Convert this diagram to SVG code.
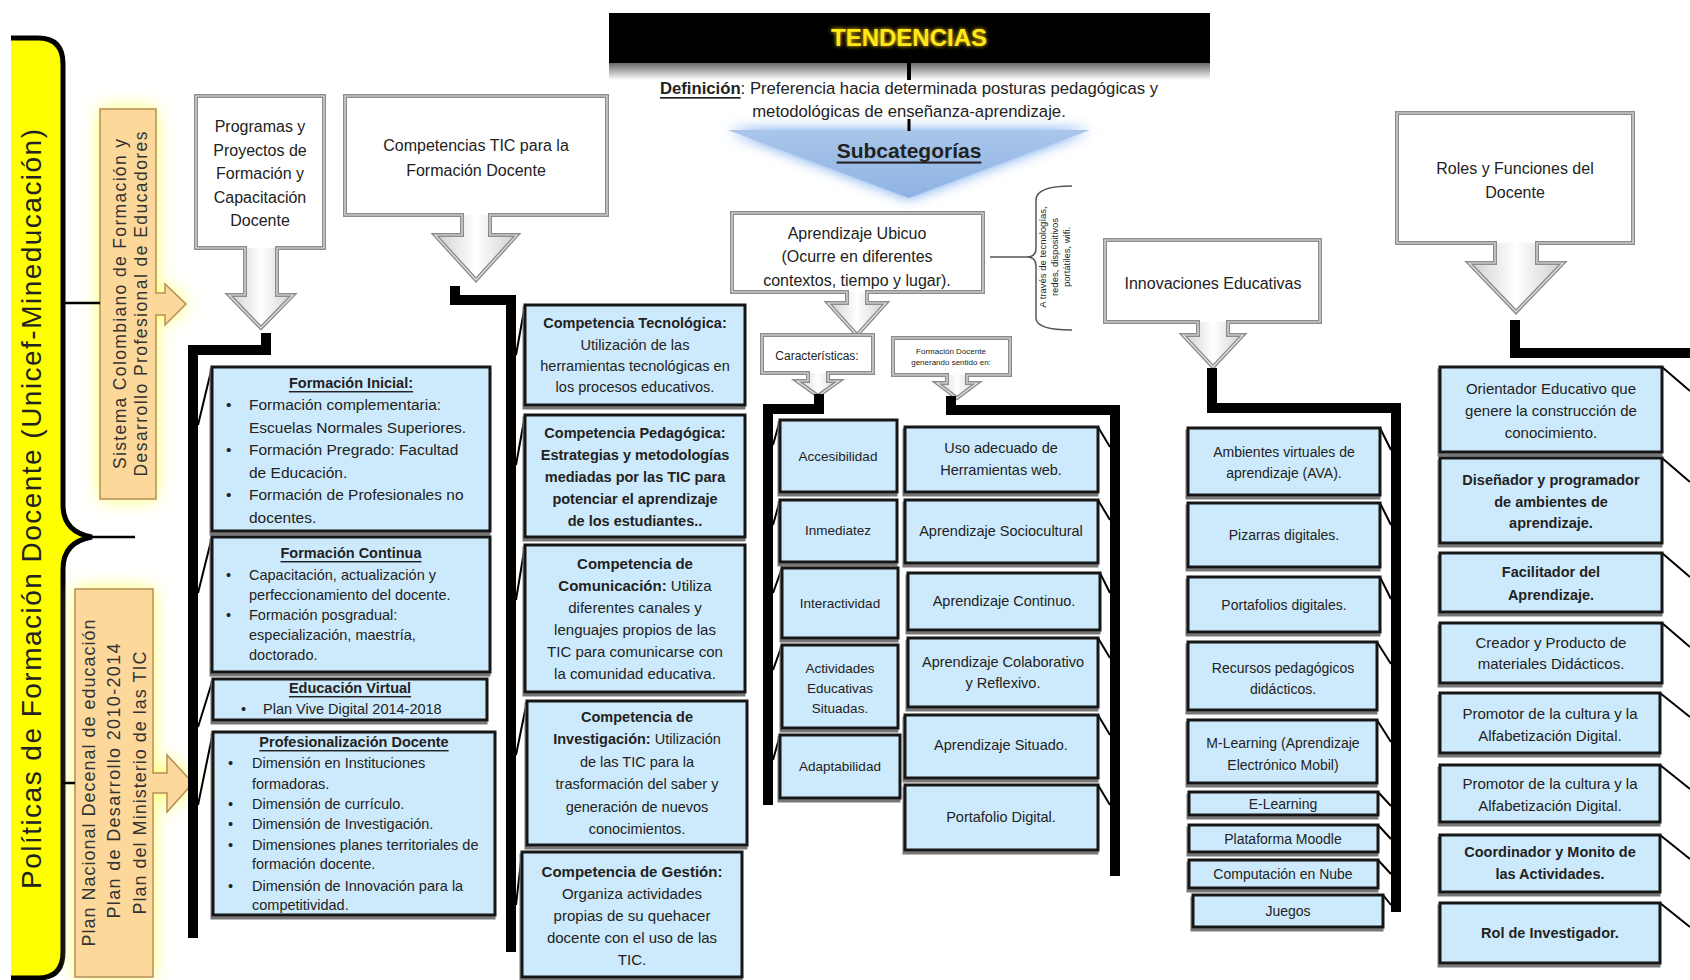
<svg xmlns="http://www.w3.org/2000/svg" width="1690" height="980" viewBox="0 0 1690 980">
<defs>
<style>
text{font-family:"Liberation Sans",Arial,sans-serif;fill:#222;dominant-baseline:central;font-size:15px}
.c{text-anchor:middle}
.b{font-weight:bold}
.u{text-decoration:underline}
.box{fill:#cdeafc;stroke:#151515;stroke-width:3;filter:url(#ds)}
.co{fill:#fff;stroke:none}
.cs{fill:none;stroke:#8c8c8c;stroke-width:4}
.ci{fill:none;stroke:#e2e2e2;stroke-width:1.2}
.ag{fill:url(#agr)}
.br{fill:none;stroke:#000;stroke-width:10;stroke-linejoin:miter}
.dg{stroke:#000;stroke-width:2;fill:none}
.tl{stroke:#000;stroke-width:2.5;fill:none}
.or{fill:#fdd89b;stroke:#b58f5a;stroke-width:1.5}
.glow{fill:#ffff60;filter:url(#yg)}
.f13{font-size:13.5px}.f135{font-size:14px}.f14{font-size:14.5px}.f16{font-size:16px}
</style>
<filter id="ds" x="-10%" y="-10%" width="120%" height="130%"><feDropShadow dx="-1" dy="3" stdDeviation="0.6" flood-color="#777"/></filter>
<filter id="yg" x="-50%" y="-20%" width="200%" height="140%"><feGaussianBlur stdDeviation="9"/></filter>
<filter id="bg" x="-20%" y="-40%" width="140%" height="180%"><feGaussianBlur stdDeviation="7"/></filter>
<filter id="tg" x="-20%" y="-50%" width="140%" height="200%"><feGaussianBlur stdDeviation="2"/></filter>
<linearGradient id="agr" x1="0" y1="0" x2="1" y2="0"><stop offset="0" stop-color="#cfcfcf"/><stop offset="0.5" stop-color="#fff"/><stop offset="1" stop-color="#cfcfcf"/></linearGradient>
<linearGradient id="refl" x1="0" y1="0" x2="0" y2="1"><stop offset="0" stop-color="#6a6a6a"/><stop offset="1" stop-color="#fff"/></linearGradient>
<linearGradient id="tri" x1="0" y1="0" x2="0" y2="1"><stop offset="0" stop-color="#a9c6ea"/><stop offset="1" stop-color="#8fb3e4"/></linearGradient>
</defs>
<rect width="1690" height="980" fill="#fff"/>

<!-- Yellow brace -->
<g id="politicas">
<path d="M11,38H38Q63,38 63,64V505Q63,532 92,537Q63,542 63,569V952Q63,978 38,978H11Z" fill="#ffff00"/>
<path d="M11,38H38Q63,38 63,64V505Q63,532 92,537Q63,542 63,569V952Q63,978 38,978H11" fill="none" stroke="#000" stroke-width="5"/>
<text transform="translate(31,509) rotate(-90)" class="c" style="font-size:28px" textLength="760">Políticas de Formación Docente (Unicef-Mineducación)</text>
</g>

<!-- Orange boxes -->
<g id="sistema">
<path class="glow" d="M100,109H156V293H165V284L186,304L165,325V315H156V499H100Z"/>
<path class="or" d="M100,109H156V293H165V284L186,304L165,325V315H156V499H100Z"/>
<text transform="translate(120,304) rotate(-90)" class="c" style="font-size:17.5px;fill:#333" textLength="330">Sistema Colombiano de Formación y</text>
<text transform="translate(141,304) rotate(-90)" class="c" style="font-size:17.5px;fill:#333" textLength="345">Desarrollo Profesional de Educadores</text>
</g>
<g id="planes">
<path class="glow" d="M75,589H153V773H167V755L193,783L167,812V793H153V977H75Z"/>
<path class="or" d="M75,589H153V773H167V755L193,783L167,812V793H153V977H75Z"/>
<text transform="translate(89,783) rotate(-90)" class="c" style="font-size:18px;fill:#333" textLength="327">Plan Nacional Decenal de educación</text>
<text transform="translate(114,781) rotate(-90)" class="c" style="font-size:18px;fill:#333" textLength="275">Plan de Desarrollo 2010-2014</text>
<text transform="translate(140,783) rotate(-90)" class="c" style="font-size:18px;fill:#333" textLength="263">Plan del Ministerio de las TIC</text>
</g>

<!-- Title -->
<g id="tendencias">
<rect x="609" y="13" width="601" height="50" fill="#000"/>
<rect x="609" y="63" width="601" height="17" fill="url(#refl)"/>
<text x="909" y="37" class="c b" style="font-size:24px;fill:#ffcc00;filter:url(#tg)">TENDENCIAS</text>
<text x="909" y="37" class="c b" style="font-size:24px;fill:#ffe81a">TENDENCIAS</text>
</g>
<g id="definicion">
<text x="909" y="88" class="c" style="font-size:16.7px"><tspan class="b u">Definición</tspan>: Preferencia hacia determinada posturas pedagógicas y</text>
<text x="909" y="111" class="c" style="font-size:16.7px">metodológicas de enseñanza-aprendizaje.</text>
</g>
<g id="subcategorias">
<polygon points="728,130 1090,130 909,198" fill="#6aa2ec" filter="url(#bg)"/>
<polygon points="728,130 1090,130 909,198" fill="url(#tri)"/>
<text x="909" y="150" class="c b u" style="font-size:21px">Subcategorías</text>
</g>

<!-- Callouts -->
<g id="programas">
<path class="co" d="M196,96H324V248H277V295H293L261,328L229,295H245V248H196Z"/>
<polygon class="ag" points="245,248 277,248 277,295 293,295 261,328 229,295 245,295"/>
<path class="cs" d="M196,96H324V248H277V295H293L261,328L229,295H245V248H196Z"/>
<path class="ci" d="M196,96H324V248H277V295H293L261,328L229,295H245V248H196Z"/>
<text class="c f16" x="260"><tspan x="260" y="126">Programas y</tspan><tspan x="260" y="150">Proyectos de</tspan><tspan x="260" y="173">Formación y</tspan><tspan x="260" y="197">Capacitación</tspan><tspan x="260" y="220">Docente</tspan></text>
</g>
<g id="competencias-tic">
<path class="co" d="M345,96H607V215H490V235H517L476,280L435,235H462V215H345Z"/>
<polygon class="ag" points="462,215 490,215 490,235 517,235 476,280 435,235 462,235"/>
<path class="cs" d="M345,96H607V215H490V235H517L476,280L435,235H462V215H345Z"/>
<path class="ci" d="M345,96H607V215H490V235H517L476,280L435,235H462V215H345Z"/>
<text class="c f16"><tspan x="476" y="145">Competencias TIC para la</tspan><tspan x="476" y="170">Formación Docente</tspan></text>
</g>
<g id="ubicuo">
<path class="co" d="M732,213H983V292H867V303H886L857,335L828,303H847V292H732Z"/>
<polygon class="ag" points="847,292 867,292 867,303 886,303 857,335 828,303 847,303"/>
<path class="cs" d="M732,213H983V292H867V303H886L857,335L828,303H847V292H732Z"/>
<path class="ci" d="M732,213H983V292H867V303H886L857,335L828,303H847V292H732Z"/>
<text class="c f16"><tspan x="857" y="233">Aprendizaje Ubicuo</tspan><tspan x="857" y="256">(Ocurre en diferentes</tspan><tspan x="857" y="280">contextos, tiempo y lugar).</tspan></text>
</g>
<g id="ubicuo-nota">
<path d="M1072,186Q1036,186 1036,200V248Q1036,257 1027,257Q1036,257 1036,266V318Q1036,330 1072,330" fill="none" stroke="#555" stroke-width="1.5"/>
<text transform="translate(1042,257) rotate(-90)" class="c" style="font-size:9.5px">A través de tecnologías,</text>
<text transform="translate(1054,257) rotate(-90)" class="c" style="font-size:9.5px">redes, dispositivos</text>
<text transform="translate(1066,257) rotate(-90)" class="c" style="font-size:9.5px">portátiles, wifi.</text>
</g>
<g id="caracteristicas">
<path class="co" d="M762,335H873V373H828V381H839L818,396L797,381H808V373H762Z"/>
<polygon class="ag" points="808,373 828,373 828,381 839,381 818,396 797,381 808,381"/>
<path class="cs" d="M762,335H873V373H828V381H839L818,396L797,381H808V373H762Z"/>
<path class="ci" d="M762,335H873V373H828V381H839L818,396L797,381H808V373H762Z"/>
<text x="817" y="356" class="c" style="font-size:12px">Características:</text>
</g>
<g id="formacion-sentido">
<path class="co" d="M893,338H1010V375H967V383H977L957,398L937,383H947V375H893Z"/>
<polygon class="ag" points="947,375 967,375 967,383 977,383 957,398 937,383 947,383"/>
<path class="cs" d="M893,338H1010V375H967V383H977L957,398L937,383H947V375H893Z"/>
<path class="ci" d="M893,338H1010V375H967V383H977L957,398L937,383H947V375H893Z"/>
<text class="c" style="font-size:8px"><tspan x="951" y="351">Formación Docente</tspan><tspan x="951" y="362">generando sentido en:</tspan></text>
</g>
<g id="innovaciones">
<path class="co" d="M1105,240H1320V322H1228V335H1243L1213,367L1183,335H1198V322H1105Z"/>
<polygon class="ag" points="1198,322 1228,322 1228,335 1243,335 1213,367 1183,335 1198,335"/>
<path class="cs" d="M1105,240H1320V322H1228V335H1243L1213,367L1183,335H1198V322H1105Z"/>
<path class="ci" d="M1105,240H1320V322H1228V335H1243L1213,367L1183,335H1198V322H1105Z"/>
<text x="1213" y="283" class="c f16">Innovaciones Educativas</text>
</g>
<g id="roles">
<path class="co" d="M1397,113H1633V243H1537V263H1563L1516,312L1469,263H1495V243H1397Z"/>
<polygon class="ag" points="1495,243 1537,243 1537,263 1563,263 1516,312 1469,263 1495,263"/>
<path class="cs" d="M1397,113H1633V243H1537V263H1563L1516,312L1469,263H1495V243H1397Z"/>
<path class="ci" d="M1397,113H1633V243H1537V263H1563L1516,312L1469,263H1495V243H1397Z"/>
<text class="c f16"><tspan x="1515" y="168">Roles y Funciones del</tspan><tspan x="1515" y="192">Docente</tspan></text>
</g>

<!-- Connectors -->
<g id="connectors">
<line class="tl" x1="63" y1="303" x2="100" y2="303"/>
<line class="tl" x1="63" y1="783" x2="75" y2="783"/>
<line class="tl" x1="90" y1="537" x2="135" y2="537" stroke-width="3"/>
<line x1="909" y1="63" x2="909" y2="80" stroke="#000" stroke-width="4"/>
<line x1="909" y1="119" x2="909" y2="131" stroke="#000" stroke-width="3"/>
<line x1="990" y1="257" x2="1027" y2="257" stroke="#555" stroke-width="1.5"/>
<path class="br" d="M266,333V350H193V938"/>
<path class="br" d="M455,286V300H511V952"/>
<path class="br" d="M819,394V409H768V805"/>
<path class="br" d="M951,396V410H1115V876"/>
<path class="br" d="M1212,368V408H1396V912"/>
<path class="br" d="M1515,320V353H1695"/>
<path class="dg" d="M212,367L198,425M212,537L198,593M213,679L198,727M213,732L198,805"/>
<path class="dg" d="M525,305L516,355M525,415L516,465M525,545L516,600M527,701L516,755M522,852L516,905"/>
<path class="dg" d="M780,420L773,445M780,500L773,525M782,568L773,593M782,645L773,670M780,735L773,760"/>
<path class="dg" d="M1098,427L1110,447M1098,500L1110,520M1100,573L1110,593M1098,638L1110,658M1098,715L1110,735M1098,785L1110,805"/>
<path class="dg" d="M1380,428L1391,450M1380,503L1391,525M1380,577L1391,599M1377,642L1391,664M1377,720L1391,742M1378,792L1391,806M1378,825L1391,839M1378,860L1391,874M1383,895L1391,905"/>
<path class="dg" d="M1662,367L1690,391M1662,458L1690,482M1662,553L1690,577M1662,623L1690,647M1660,693L1690,717M1660,765L1690,789M1660,835L1690,859M1660,903L1690,927"/>
</g>

<!-- Column 1 -->
<g id="formacion-inicial">
<rect class="box" x="212" y="367" width="278" height="164"/>
<text x="351" y="383" class="c b u f14">Formación Inicial:</text>
<text style="font-size:15.5px"><tspan x="226" y="404">•</tspan><tspan x="249" y="404">Formación complementaria:</tspan><tspan x="249" y="427">Escuelas Normales Superiores.</tspan><tspan x="226" y="449">•</tspan><tspan x="249" y="449">Formación Pregrado: Facultad</tspan><tspan x="249" y="472">de Educación.</tspan><tspan x="226" y="494">•</tspan><tspan x="249" y="494">Formación de Profesionales no</tspan><tspan x="249" y="517">docentes.</tspan></text>
</g>
<g id="formacion-continua">
<rect class="box" x="212" y="537" width="278" height="135"/>
<text x="351" y="553" class="c b u f14">Formación Continua</text>
<text class="f14"><tspan x="226" y="575">•</tspan><tspan x="249" y="575">Capacitación, actualización y</tspan><tspan x="249" y="595">perfeccionamiento del docente.</tspan><tspan x="226" y="615">•</tspan><tspan x="249" y="615">Formación posgradual:</tspan><tspan x="249" y="635">especialización, maestría,</tspan><tspan x="249" y="655">doctorado.</tspan></text>
</g>
<g id="educacion-virtual">
<rect class="box" x="213" y="679" width="274" height="41"/>
<text x="350" y="688" class="c b u f14">Educación Virtual</text>
<text class="f14"><tspan x="241" y="709">•</tspan><tspan x="263" y="709">Plan Vive Digital 2014-2018</tspan></text>
</g>
<g id="profesionalizacion">
<rect class="box" x="213" y="732" width="282" height="183"/>
<text x="354" y="742" class="c b u f14">Profesionalización Docente</text>
<text class="f14"><tspan x="228" y="763">•</tspan><tspan x="252" y="763">Dimensión en Instituciones</tspan><tspan x="252" y="784">formadoras.</tspan><tspan x="228" y="804">•</tspan><tspan x="252" y="804">Dimensión de currículo.</tspan><tspan x="228" y="824">•</tspan><tspan x="252" y="824">Dimensión de Investigación.</tspan><tspan x="228" y="845">•</tspan><tspan x="252" y="845">Dimensiones planes territoriales de</tspan><tspan x="252" y="864">formación docente.</tspan><tspan x="228" y="886">•</tspan><tspan x="252" y="886">Dimensión de Innovación para la</tspan><tspan x="252" y="905">competitividad.</tspan></text>
</g>

<!-- Column 2 -->
<g id="comp-tecnologica">
<rect class="box" x="525" y="305" width="220" height="100"/>
<text class="c f14"><tspan x="635" y="323" class="b">Competencia Tecnológica:</tspan><tspan x="635" y="345">Utilización de las</tspan><tspan x="635" y="366">herramientas tecnológicas en</tspan><tspan x="635" y="387">los procesos educativos.</tspan></text>
</g>
<g id="comp-pedagogica">
<rect class="box" x="525" y="415" width="220" height="122"/>
<text class="c b f14"><tspan x="635" y="433">Competencia Pedagógica:</tspan><tspan x="635" y="455">Estrategias y metodologías</tspan><tspan x="635" y="477">mediadas por las TIC para</tspan><tspan x="635" y="499">potenciar el aprendizaje</tspan><tspan x="635" y="521">de los estudiantes..</tspan></text>
</g>
<g id="comp-comunicacion">
<rect class="box" x="525" y="545" width="220" height="147"/>
<text class="c"><tspan x="635" y="563" class="b">Competencia de</tspan><tspan x="635" y="585"><tspan class="b">Comunicación:</tspan> Utiliza</tspan><tspan x="635" y="607">diferentes canales y</tspan><tspan x="635" y="629">lenguajes propios de las</tspan><tspan x="635" y="651">TIC para  comunicarse con</tspan><tspan x="635" y="673">la comunidad educativa.</tspan></text>
</g>
<g id="comp-investigacion">
<rect class="box" x="527" y="701" width="220" height="144"/>
<text class="c f14"><tspan x="637" y="717" class="b">Competencia de</tspan><tspan x="637" y="739"><tspan class="b">Investigación:</tspan> Utilización</tspan><tspan x="637" y="762">de las TIC para la</tspan><tspan x="637" y="784">trasformación del saber y</tspan><tspan x="637" y="807">generación de nuevos</tspan><tspan x="637" y="829">conocimientos.</tspan></text>
</g>
<g id="comp-gestion">
<rect class="box" x="522" y="852" width="220" height="125"/>
<text class="c"><tspan x="632" y="871" class="b">Competencia de Gestión:</tspan><tspan x="632" y="893">Organiza actividades</tspan><tspan x="632" y="915">propias de su quehacer</tspan><tspan x="632" y="937">docente con el uso de las</tspan><tspan x="632" y="959">TIC.</tspan></text>
</g>

<!-- Column 3 -->
<g id="accesibilidad"><rect class="box" x="780" y="420" width="117" height="72"/><text x="838" y="456" class="c f13">Accesibilidad</text></g>
<g id="inmediatez"><rect class="box" x="780" y="500" width="117" height="62"/><text x="838" y="530" class="c f13">Inmediatez</text></g>
<g id="interactividad"><rect class="box" x="782" y="568" width="116" height="70"/><text x="840" y="603" class="c f13">Interactividad</text></g>
<g id="actividades"><rect class="box" x="782" y="645" width="116" height="83"/><text class="c f13"><tspan x="840" y="668">Actividades</tspan><tspan x="840" y="688">Educativas</tspan><tspan x="840" y="708">Situadas.</tspan></text></g>
<g id="adaptabilidad"><rect class="box" x="780" y="735" width="120" height="63"/><text x="840" y="766" class="c f13">Adaptabilidad</text></g>

<!-- Column 4 -->
<g id="uso-herramientas"><rect class="box" x="905" y="427" width="193" height="65"/><text class="c f14"><tspan x="1001" y="448">Uso adecuado de</tspan><tspan x="1001" y="470">Herramientas web.</tspan></text></g>
<g id="sociocultural"><rect class="box" x="905" y="500" width="193" height="63"/><text x="1001" y="531" class="c f14">Aprendizaje Sociocultural</text></g>
<g id="continuo"><rect class="box" x="908" y="573" width="192" height="57"/><text x="1004" y="601" class="c f14">Aprendizaje Continuo.</text></g>
<g id="colaborativo"><rect class="box" x="908" y="638" width="190" height="69"/><text class="c f14"><tspan x="1003" y="662">Aprendizaje Colaborativo</tspan><tspan x="1003" y="683">y Reflexivo.</tspan></text></g>
<g id="situado"><rect class="box" x="905" y="715" width="193" height="63"/><text x="1001" y="745" class="c f14">Aprendizaje Situado.</text></g>
<g id="portafolio"><rect class="box" x="905" y="785" width="193" height="65"/><text x="1001" y="817" class="c f14">Portafolio Digital.</text></g>

<!-- Column 5 -->
<g id="ava"><rect class="box" x="1188" y="428" width="192" height="67"/><text class="c f135"><tspan x="1284" y="452">Ambientes virtuales de</tspan><tspan x="1284" y="473">aprendizaje (AVA).</tspan></text></g>
<g id="pizarras"><rect class="box" x="1188" y="503" width="192" height="64"/><text x="1284" y="535" class="c f135">Pizarras digitales.</text></g>
<g id="portafolios"><rect class="box" x="1188" y="577" width="192" height="55"/><text x="1284" y="605" class="c f135">Portafolios digitales.</text></g>
<g id="recursos"><rect class="box" x="1188" y="642" width="189" height="68"/><text class="c f135"><tspan x="1283" y="668">Recursos pedagógicos</tspan><tspan x="1283" y="689">didácticos.</tspan></text></g>
<g id="mlearning"><rect class="box" x="1188" y="720" width="189" height="63"/><text class="c f135"><tspan x="1283" y="743">M-Learning (Aprendizaje</tspan><tspan x="1283" y="765">Electrónico Mobil)</tspan></text></g>
<g id="elearning"><rect class="box" x="1189" y="792" width="189" height="23"/><text x="1283" y="804" class="c f135">E-Learning</text></g>
<g id="moodle"><rect class="box" x="1189" y="825" width="189" height="27"/><text x="1283" y="839" class="c f135">Plataforma Moodle</text></g>
<g id="nube"><rect class="box" x="1189" y="860" width="189" height="28"/><text x="1283" y="874" class="c f135">Computación en Nube</text></g>
<g id="juegos"><rect class="box" x="1193" y="895" width="190" height="32"/><text x="1288" y="911" class="c f135">Juegos</text></g>

<!-- Column 6 -->
<g id="orientador"><rect class="box" x="1440" y="367" width="222" height="85"/><text class="c"><tspan x="1551" y="388">Orientador Educativo que</tspan><tspan x="1551" y="410">genere la construcción de</tspan><tspan x="1551" y="432">conocimiento.</tspan></text></g>
<g id="disenador"><rect class="box" x="1440" y="458" width="222" height="85"/><text class="c b f14"><tspan x="1551" y="480">Diseñador y programador</tspan><tspan x="1551" y="502">de ambientes de</tspan><tspan x="1551" y="523">aprendizaje.</tspan></text></g>
<g id="facilitador"><rect class="box" x="1440" y="553" width="222" height="59"/><text class="c b f14"><tspan x="1551" y="572">Facilitador del</tspan><tspan x="1551" y="595">Aprendizaje.</tspan></text></g>
<g id="creador"><rect class="box" x="1440" y="623" width="222" height="60"/><text class="c"><tspan x="1551" y="642">Creador y Producto de</tspan><tspan x="1551" y="663">materiales Didácticos.</tspan></text></g>
<g id="promotor1"><rect class="box" x="1440" y="693" width="220" height="60"/><text class="c"><tspan x="1550" y="713">Promotor de la cultura y la</tspan><tspan x="1550" y="735">Alfabetización Digital.</tspan></text></g>
<g id="promotor2"><rect class="box" x="1440" y="765" width="220" height="57"/><text class="c"><tspan x="1550" y="783">Promotor de la cultura y la</tspan><tspan x="1550" y="805">Alfabetización Digital.</tspan></text></g>
<g id="coordinador"><rect class="box" x="1440" y="835" width="220" height="57"/><text class="c b f14"><tspan x="1550" y="852">Coordinador y Monito de</tspan><tspan x="1550" y="874">las Actividades.</tspan></text></g>
<g id="investigador"><rect class="box" x="1440" y="903" width="220" height="60"/><text x="1550" y="933" class="c b f14">Rol de Investigador.</text></g>
</svg>
